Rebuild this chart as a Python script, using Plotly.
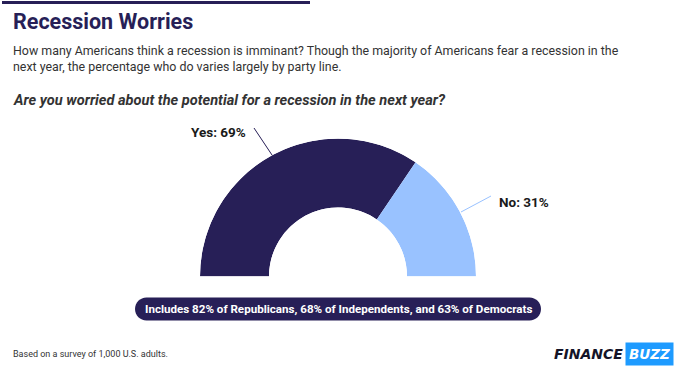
import plotly.graph_objects as go

W, H = 680, 375

# ---- data ----
categories = ["Yes", "No"]
values = [69, 31]
colors = ["#271f57", "#99c2ff"]
title = "Recession Worries"
subtitle = ("How many Americans think a recession is imminant? Though the majority of Americans fear a recession in the<br>"
            "next year, the percentage who do varies largely by party line.")
question = "Are you worried about the potential for a recession in the next year?"
note = "Includes 82% of Republicans, 68% of Independents, and 63% of Democrats"
footer = "Based on a survey of 1,000 U.S. adults."

NAVY = "#271f57"

def px(x):
    return x / W

def py(y):
    return 1 - y / H

# semicircle: values map onto 180 degrees, starting from the left (180deg) going clockwise
total = sum(values)
thetas, widths = [], []
start = 180.0
for v in values:
    span = 180.0 * v / total
    thetas.append(start - span / 2)
    widths.append(span)
    start -= span

fig = go.Figure()
for cat, th, wd, col in zip(categories, thetas, widths, colors):
    fig.add_trace(go.Barpolar(
        r=[1], theta=[th], width=[wd], base=0,
        marker=dict(color=col, line=dict(width=0)),
        name=cat, showlegend=False, hoverinfo="skip",
    ))

fig.update_layout(
    width=W, height=H,
    margin=dict(l=0, r=0, t=0, b=0),
    paper_bgcolor="white",
    plot_bgcolor="white",
    font=dict(family="Roboto", color="#333333"),
    polar=dict(
        domain=dict(x=[px(200), px(476)], y=[py(276.5), py(138.5)]),
        sector=[0, 180],
        hole=0.5,
        bgcolor="rgba(0,0,0,0)",
        radialaxis=dict(visible=False, range=[0, 1]),
        angularaxis=dict(visible=False, rotation=0, direction="counterclockwise"),
        barmode="overlay",
    ),
)

shapes = []
# top rule
shapes.append(dict(type="rect", xref="paper", yref="paper",
                   x0=px(2), x1=px(310), y0=py(4), y1=py(1),
                   fillcolor=NAVY, line=dict(width=0)))

# rounded pill
x0, x1, y0, y1 = 135, 541, 297.5, 320.5
r = (y1 - y0) / 2
k = 0.5523 * r
def P(x, y):
    return f"{px(x):.5f},{py(y):.5f}"
path = (f"M {P(x0 + r, y0)} L {P(x1 - r, y0)} "
        f"C {P(x1 - r + k, y0)} {P(x1, y0 + r - k)} {P(x1, y0 + r)} "
        f"C {P(x1, y0 + r + k)} {P(x1 - r + k, y1)} {P(x1 - r, y1)} "
        f"L {P(x0 + r, y1)} "
        f"C {P(x0 + r - k, y1)} {P(x0, y0 + r + k)} {P(x0, y0 + r)} "
        f"C {P(x0, y0 + r - k)} {P(x0 + r - k, y0)} {P(x0 + r, y0)} Z")
shapes.append(dict(type="path", xref="paper", yref="paper", path=path,
                   fillcolor=NAVY, line=dict(width=0)))

# leader lines
shapes.append(dict(type="line", xref="paper", yref="paper",
                   x0=px(254), y0=py(128), x1=px(272), y1=py(155),
                   line=dict(color=NAVY, width=1)))
shapes.append(dict(type="line", xref="paper", yref="paper",
                   x0=px(461), y0=py(212), x1=px(491), y1=py(196),
                   line=dict(color=colors[1], width=1)))
fig.update_layout(shapes=shapes)

ann = []
ann.append(dict(x=px(11), y=py(22), xref="paper", yref="paper", xanchor="left", yanchor="middle",
                text=f"<b>{title}</b>", showarrow=False,
                font=dict(family="Roboto", size=21.5, color=NAVY)))
ann.append(dict(x=px(11), y=py(58.5), xref="paper", yref="paper", xanchor="left", yanchor="middle",
                text=subtitle, showarrow=False, align="left",
                font=dict(family="Roboto", size=12.4, color="#333333")))
ann.append(dict(x=px(11), y=py(100), xref="paper", yref="paper", xanchor="left", yanchor="middle",
                text=f"<b><i>{question}</i></b>", showarrow=False,
                font=dict(family="Roboto", size=14.6, color="#333333")))
ann.append(dict(x=px(218), y=py(132), xref="paper", yref="paper", xanchor="center", yanchor="middle",
                text=f"<b>{categories[0]}: {values[0]}%</b>", showarrow=False,
                font=dict(family="Roboto", size=13.5, color="#1a1a1a")))
ann.append(dict(x=px(524), y=py(202), xref="paper", yref="paper", xanchor="center", yanchor="middle",
                text=f"<b>{categories[1]}: {values[1]}%</b>", showarrow=False,
                font=dict(family="Roboto", size=13.5, color="#1a1a1a")))
ann.append(dict(x=px(338), y=py(309), xref="paper", yref="paper", xanchor="center", yanchor="middle",
                text=f"<b>{note}</b>", showarrow=False,
                font=dict(family="Roboto", size=11.6, color="white")))
ann.append(dict(x=px(11), y=py(354), xref="paper", yref="paper", xanchor="left", yanchor="middle",
                text=footer, showarrow=False,
                font=dict(family="Roboto", size=9, color="#333333")))
# logo
ann.append(dict(x=px(625), y=py(354), xref="paper", yref="paper", xanchor="right", yanchor="middle",
                text="<b><i>FINANCE</i></b>", showarrow=False,
                font=dict(family="DejaVu Sans", size=14, color="#141428")))
ann.append(dict(x=px(649), y=py(354), xref="paper", yref="paper", xanchor="center", yanchor="middle",
                text="<b><i>BUZZ</i></b>", showarrow=False, bgcolor="#1e9bff", borderpad=3,
                font=dict(family="DejaVu Sans", size=13.5, color="white")))
fig.update_layout(annotations=ann)

fig.write_html("out.html", config={"displayModeBar": False},
               post_script="document.body.style.margin='0';")
